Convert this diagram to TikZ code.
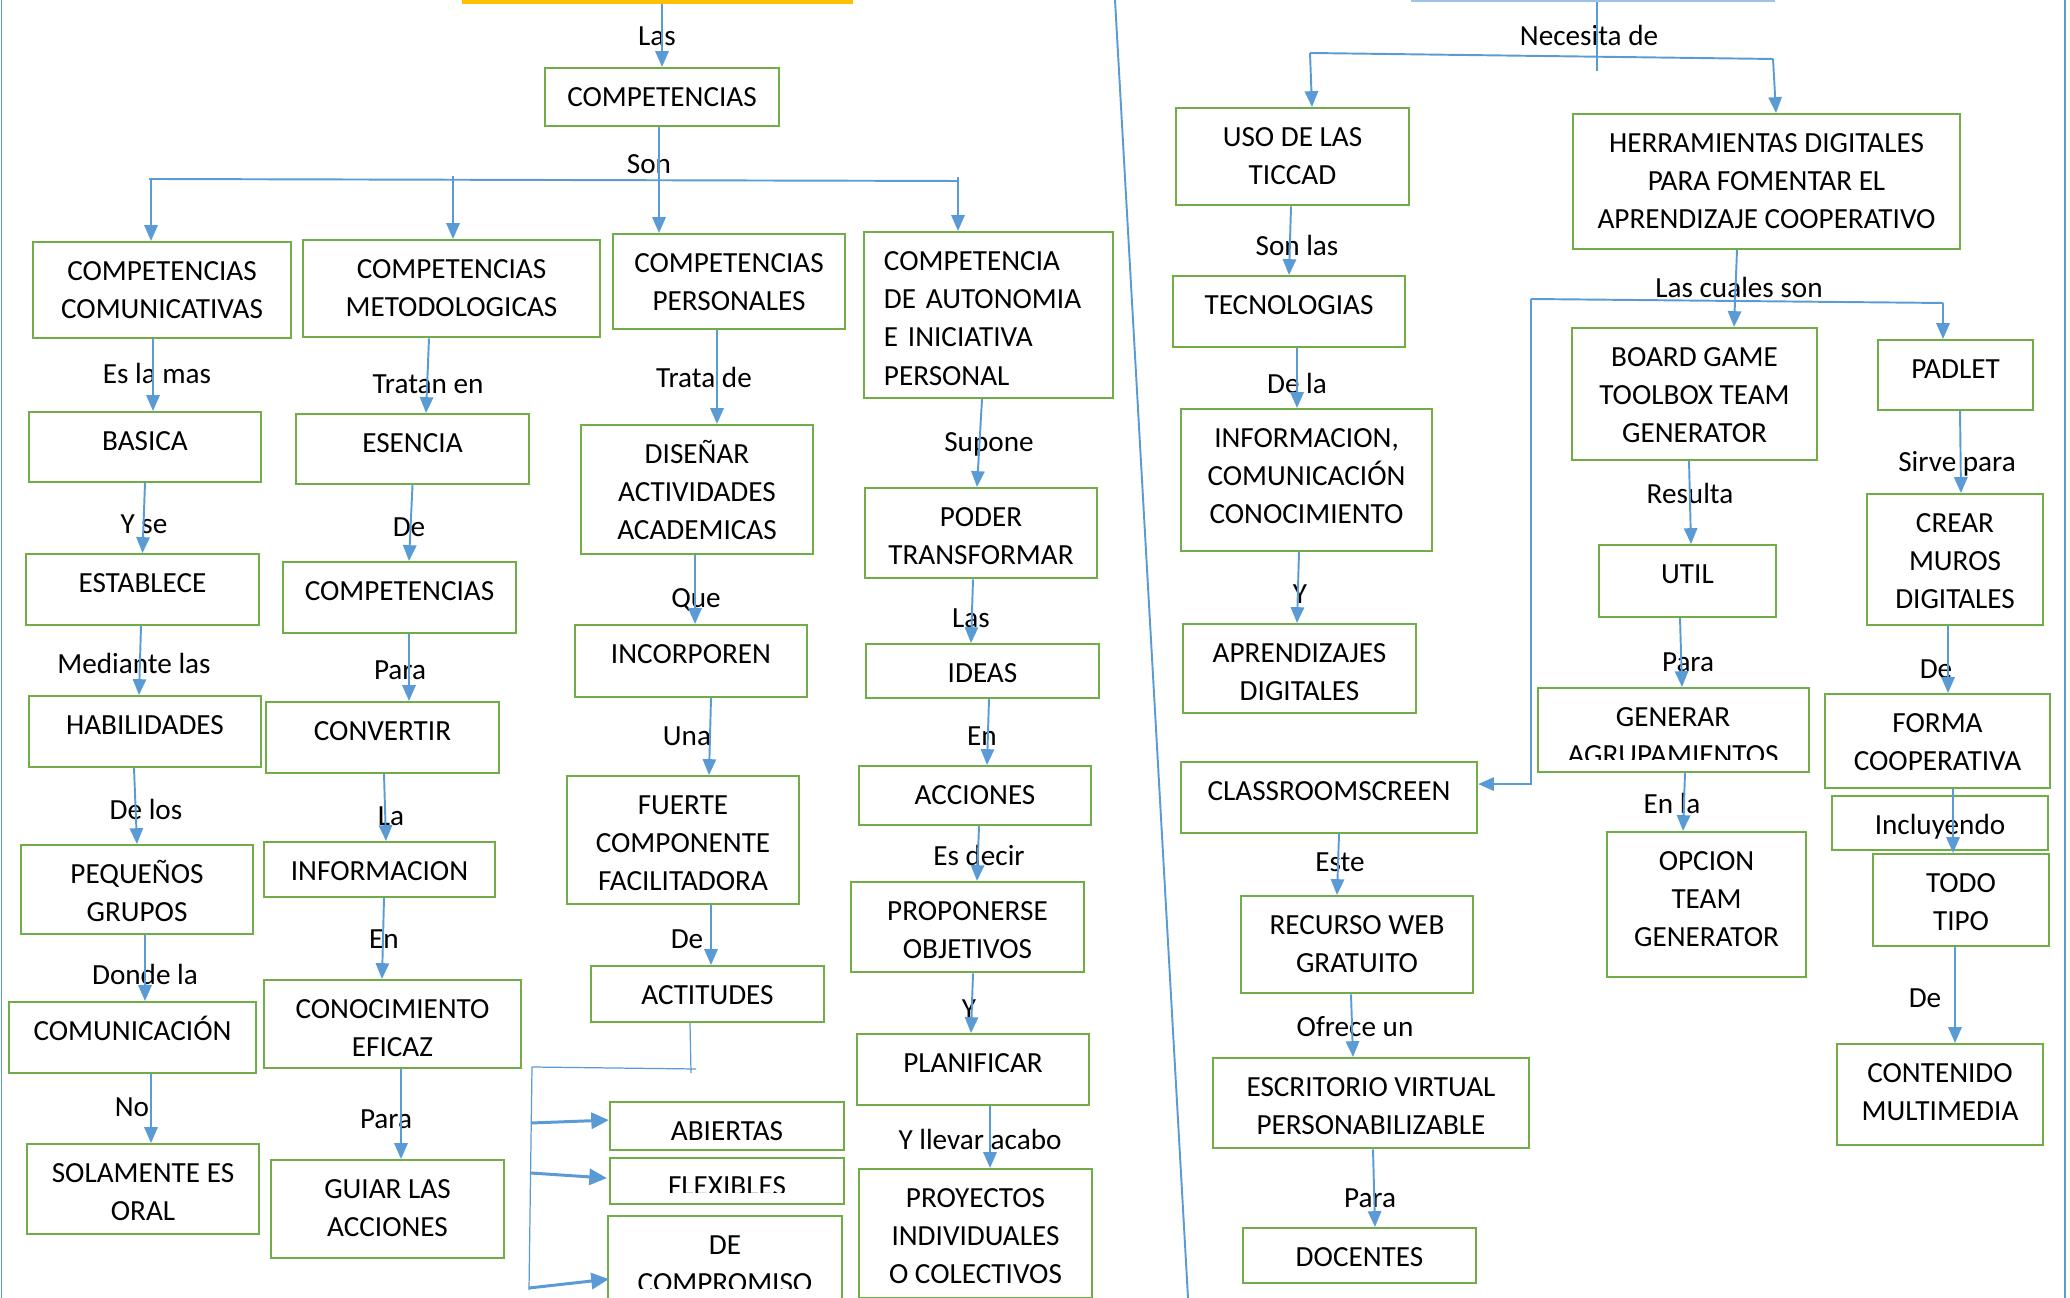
\documentclass[tikz,border=0pt]{standalone}
\usepackage{fontspec}
\setmainfont{Carlito}
\usetikzlibrary{arrows.meta,calc}
\definecolor{verde}{HTML}{70AD47}
\definecolor{azul}{HTML}{5B9BD5}
\definecolor{amarillo}{HTML}{FFC000}
\definecolor{celeste}{HTML}{9DC3E6}
\newcommand{\mapfont}{\fontsize{8.3pt}{10.9pt}\selectfont}
\tikzset{
  caja/.style={draw=verde, line width=0.6pt, inner sep=0pt, align=center, font=\mapfont, anchor=north, text height=0.38cm},
  caja2/.style={caja, text height=0.763cm},
  caja3/.style={caja, text height=1.146cm},
  etiqueta/.style={inner sep=0pt, font=\mapfont, anchor=base},
  linea/.style={draw=azul, line width=0.55pt},
  fina/.style={draw=azul, line width=0.35pt},
  flecha/.style={linea, -{Triangle[length=4.5pt,width=3.8pt]}},
  flechagruesa/.style={draw=azul, line width=0.85pt, -{Triangle[length=5pt,width=4.6pt]}},
}

\begin{document}
\begin{tikzpicture}[x=0.01cm, y=-0.01cm]
\useasboundingbox (0,0) rectangle (2070,1298);
\clip (0,0) rectangle (2070,1298);

% cajas de arriba
\node[draw=amarillo, line width=0.9pt, minimum width=3.87cm, minimum height=0.6cm, inner sep=0pt] (titulo) at (657.5,-28) {};
\node[draw=celeste, line width=0.6pt, minimum width=3.62cm, minimum height=0.6cm, inner sep=0pt] (necesita) at (1593,-29) {};

% lado izquierdo
\node[caja, minimum width=2.34cm, text depth=0.20cm] (comp) at (662,67) {COMPETENCIAS};
\node[caja2, minimum width=2.58cm, text depth=0.20cm] (comunicativas) at (162,241) {COMPETENCIAS\\COMUNICATIVAS};
\node[caja2, minimum width=2.97cm, text depth=0.21cm] (metodologicas) at (451.5,239) {COMPETENCIAS\\METODOLOGICAS};
\node[caja2, minimum width=2.32cm, text depth=0.19cm] (personales) at (729,233) {COMPETENCIAS\\PERSONALES};
\node[caja, minimum width=2.49cm, text depth=1.28cm, align=left, text width=2.09cm] (autonomia) at (988.5,231) {COMPETENCIA\\DE AUTONOMIA\\E INICIATIVA\\PERSONAL};
\node[caja, minimum width=2.32cm, text depth=0.32cm] (basica) at (145,411) {BASICA};
\node[caja, minimum width=2.33cm, text depth=0.32cm] (esencia) at (412.5,413) {ESENCIA};
\node[caja3, minimum width=2.32cm, text depth=0.14cm] (disenar) at (697,424) {DISEÑAR\\ACTIVIDADES\\ACADEMICAS};
\node[caja2, minimum width=2.32cm, text depth=0.14cm] (poder) at (981,487) {PODER\\TRANSFORMAR};
\node[caja, minimum width=2.33cm, text depth=0.33cm] (establece) at (142.5,553) {ESTABLECE};
\node[caja, minimum width=2.33cm, text depth=0.33cm] (competencias2) at (399.5,561) {COMPETENCIAS};
\node[caja, minimum width=2.32cm, text depth=0.34cm] (incorporen) at (691,624) {INCORPOREN};
\node[caja, minimum width=2.33cm, text depth=0.16cm] (ideas) at (982.5,643) {IDEAS};
\node[caja, minimum width=2.32cm, text depth=0.33cm] (habilidades) at (145,695) {HABILIDADES};
\node[caja, minimum width=2.33cm, text depth=0.33cm] (convertir) at (382.5,701) {CONVERTIR};
\node[caja3, minimum width=2.32cm, text depth=0.13cm] (fuerte) at (683,775) {FUERTE\\COMPONENTE\\FACILITADORA};
\node[caja, minimum width=2.32cm, text depth=0.21cm] (acciones) at (975,765) {ACCIONES};
\node[caja2, minimum width=2.32cm, text depth=0.13cm] (pequenos) at (137,844) {PEQUEÑOS\\GRUPOS};
\node[caja, minimum width=2.31cm, text depth=0.17cm] (informacion) at (379.5,841) {INFORMACION};
\node[caja2, minimum width=2.33cm, text depth=0.14cm] (proponerse) at (967.5,881) {PROPONERSE\\OBJETIVOS};
\node[caja, minimum width=2.33cm, text depth=0.18cm] (actitudes) at (707.5,965) {ACTITUDES};
\node[caja, minimum width=2.47cm, text depth=0.33cm] (comunicacion) at (132.5,1001) {COMUNICACIÓN};
\node[caja2, minimum width=2.57cm, text depth=0.12cm] (conocimiento) at (392.5,979) {CONOCIMIENTO\\EFICAZ};
\node[caja, minimum width=2.32cm, text depth=0.33cm] (planificar) at (973,1033) {PLANIFICAR};
\node[caja, minimum width=2.34cm, text depth=0.10cm] (abiertas) at (727,1101) {ABIERTAS};
\node[caja, minimum width=2.34cm, text depth=0.08cm] (flexibles) at (727,1157) {};
\node[caja, minimum width=2.34cm, text depth=0.52cm] (compromiso) at (725,1215) {};
\node[caja2, minimum width=2.32cm, text depth=0.14cm] (solamente) at (143,1143) {SOLAMENTE ES\\ORAL};
\node[caja2, minimum width=2.33cm, text depth=0.22cm] (guiar) at (387.5,1159) {GUIAR LAS\\ACCIONES};
\node[caja3, minimum width=2.33cm, text depth=0.14cm] (proyectos) at (975.5,1168) {PROYECTOS\\INDIVIDUALES\\O COLECTIVOS};

% lado derecho
\node[caja2, minimum width=2.33cm, text depth=0.21cm] (uso) at (1292.5,107) {USO DE LAS\\TICCAD};
\node[caja3, minimum width=3.87cm, text depth=0.20cm] (herramientas) at (1766.5,113) {HERRAMIENTAS DIGITALES\\PARA FOMENTAR EL\\APRENDIZAJE COOPERATIVO};
\node[caja, minimum width=2.32cm, text depth=0.33cm] (tecnologias) at (1289,275) {TECNOLOGIAS};
\node[caja3, minimum width=2.45cm, text depth=0.17cm] (boardgame) at (1694.5,327) {BOARD GAME\\TOOLBOX TEAM\\GENERATOR};
\node[caja, minimum width=1.55cm, text depth=0.32cm] (padlet) at (1955.5,339) {PADLET};
\node[caja3, minimum width=2.51cm, text depth=0.27cm] (infocom) at (1306.5,408) {INFORMACION,\\COMUNICACIÓN\\CONOCIMIENTO};
\node[caja, minimum width=1.77cm, text depth=0.34cm] (util) at (1687.5,544) {UTIL};
\node[caja3, minimum width=1.76cm, text depth=0.16cm] (crear) at (1955,493) {CREAR\\MUROS\\DIGITALES};
\node[caja2, minimum width=2.33cm, text depth=0.13cm] (aprendizajes) at (1299.5,623) {APRENDIZAJES\\DIGITALES};
\node[caja, minimum width=2.71cm, text depth=0.46cm] (generar) at (1673.5,687) {};
\node[caja2, minimum width=2.25cm, text depth=0.18cm] (forma) at (1937.5,693) {FORMA\\COOPERATIVA};
\node[caja, minimum width=2.96cm, text depth=0.33cm] (classroom) at (1329,761) {CLASSROOMSCREEN};
\node[caja, minimum width=2.16cm, text depth=0.16cm] (incluyendo) at (1940,795) {Incluyendo};
\node[caja3, minimum width=1.99cm, text depth=0.30cm] (opcion) at (1706.5,831) {OPCION\\TEAM\\GENERATOR};
\node[caja2, minimum width=1.76cm, text depth=0.16cm] (todotipo) at (1961,853) {TODO\\TIPO};
\node[caja2, minimum width=2.32cm, text depth=0.21cm] (recurso) at (1357,895) {RECURSO WEB\\GRATUITO};
\node[caja2, minimum width=2.06cm, text depth=0.25cm] (contenido) at (1940,1043) {CONTENIDO\\MULTIMEDIA};
\node[caja2, minimum width=3.16cm, text depth=0.14cm] (escritorio) at (1371,1057) {ESCRITORIO VIRTUAL\\PERSONABILIZABLE};
\node[caja, minimum width=2.33cm, text depth=0.17cm] (docentes) at (1359.5,1227) {DOCENTES};

% textos cortados
\begin{scope}
\clip (610,1157) rectangle (844,1192);
\node[etiqueta] (flexibles-txt) at (727,1195.5) {FLEXIBLES};
\end{scope}
\begin{scope}
\clip (608,1215) rectangle (842,1288);
\node[etiqueta] (compromiso-de) at (725,1254) {DE};
\node[etiqueta] (compromiso-txt) at (725,1292) {COMPROMISO};
\end{scope}
\begin{scope}
\clip (1538,687) rectangle (1809,760);
\node[etiqueta] (generar-txt) at (1673,727) {GENERAR};
\node[etiqueta] (agrup-txt) at (1673,765) {AGRUPAMIENTOS};
\end{scope}

% etiquetas
\node[etiqueta] (e-las) at (657,46) {Las};
\node[etiqueta] (e-son) at (649,174) {Son};
\node[etiqueta] (e-eslamas) at (157,384) {Es la mas};
\node[etiqueta] (e-tratanen) at (428,394) {Tratan en};
\node[etiqueta] (e-tratade) at (704,388) {Trata de};
\node[etiqueta] (e-supone) at (989,452) {Supone};
\node[etiqueta] (e-yse) at (144,534) {Y se};
\node[etiqueta] (e-de1) at (409,537) {De};
\node[etiqueta] (e-que) at (696,608) {Que};
\node[etiqueta] (e-las2) at (971,628) {Las};
\node[etiqueta] (e-mediante) at (134,674) {Mediante las};
\node[etiqueta] (e-para1) at (400,680) {Para};
\node[etiqueta] (e-una) at (687,746) {Una};
\node[etiqueta] (e-en1) at (982,746) {En};
\node[etiqueta] (e-delos) at (146,820) {De los};
\node[etiqueta] (e-la) at (391,826) {La};
\node[etiqueta] (e-esdecir) at (979,866) {Es decir};
\node[etiqueta] (e-dondela) at (145,984) {Donde la};
\node[etiqueta] (e-en2) at (384,948) {En};
\node[etiqueta] (e-de2) at (687,948) {De};
\node[etiqueta] (e-y1) at (969,1018) {Y};
\node[etiqueta] (e-no) at (132,1116) {No};
\node[etiqueta] (e-para2) at (386,1128) {Para};
\node[etiqueta] (e-llevar) at (980,1149) {Y llevar acabo};
\node[etiqueta] (e-necesita) at (1589,46) {Necesita de};
\node[etiqueta] (e-sonlas) at (1297,256) {Son las};
\node[etiqueta] (e-dela) at (1297,394) {De la};
\node[etiqueta] (e-cuales) at (1739,298) {Las cuales son};
\node[etiqueta] (e-resulta) at (1690,504) {Resulta};
\node[etiqueta] (e-sirve) at (1957,472) {Sirve para};
\node[etiqueta] (e-y2) at (1300,604) {Y};
\node[etiqueta] (e-para3) at (1688,672) {Para};
\node[etiqueta] (e-de3) at (1936,679) {De};
\node[etiqueta] (e-enla) at (1672,814) {En la};
\node[etiqueta] (e-este) at (1340,872) {Este};
\node[etiqueta] (e-de4) at (1925,1007) {De};
\node[etiqueta] (e-ofrece) at (1355,1036) {Ofrece un};
\node[etiqueta] (e-para4) at (1370,1207) {Para};

% bordes
\draw[linea] (1.5,0) -- (1.5,1298);
\draw[linea] (1115,0) -- (1188,1298);
\draw[linea] (2065,0) -- (2065,1298);

% conectores izquierda
\draw[flecha] (comp.north |- titulo.south) -- (comp.north);
\coordinate (son-izq) at (149,179);
\coordinate (son-der) at (958,181);
\coordinate (son-a) at (151,179);
\coordinate (son-b) at (453,176);
\coordinate (son-d) at (958,177);
\draw[linea] (son-izq) -- (son-der);
\draw[flecha] ($(comp.south)+(-3,0)$) -- ($(personales.north)+(-70,0)$);
\draw[flecha] (son-a) -- ($(comunicativas.north)+(-11,0)$);
\draw[flecha] (son-b) -- ($(metodologicas.north)+(1.5,0)$);
\draw[flecha] (son-d) -- ($(autonomia.north)+(-30.5,0)$);
\draw[flecha] ($(comunicativas.south)+(-9,0)$) -- ($(basica.north)+(8,0)$);
\draw[flecha] ($(metodologicas.south)+(-22.5,0)$) -- ($(esencia.north)+(13.5,0)$);
\draw[flecha] ($(personales.south)+(-12,0)$) -- ($(disenar.north)+(20,0)$);
\draw[flecha] ($(autonomia.south)+(-6.5,0)$) -- ($(poder.north)+(-4,0)$);
\draw[flecha] (basica.south) -- (establece.north);
\draw[flecha] (esencia.south) -- ($(competencias2.north)+(9.5,0)$);
\draw[flecha] ($(disenar.south)+(-2,0)$) -- ($(incorporen.north)+(4,0)$);
\draw[flecha] ($(poder.south)+(-8,0)$) -- ($(ideas.north)+(-11.5,0)$);
\draw[flecha] ($(establece.south)+(-1.5,0)$) -- ($(habilidades.north)+(-6,0)$);
\draw[flecha] ($(competencias2.south)+(9.5,0)$) -- ($(convertir.north)+(26.5,0)$);
\draw[flecha] ($(incorporen.south)+(20,0)$) -- ($(fuerte.north)+(26,0)$);
\draw[flecha] ($(ideas.south)+(6.5,0)$) -- ($(acciones.north)+(12,0)$);
\draw[flecha] ($(habilidades.south)+(-11,0)$) -- (pequenos.north);
\draw[flecha] ($(convertir.south)+(1.5,0)$) -- ($(informacion.north)+(6.5,0)$);
\draw[flecha] ($(fuerte.south)+(28,0)$) -- ($(actitudes.north)+(3.5,0)$);
\draw[flecha] ($(acciones.south)+(4,0)$) -- ($(proponerse.north)+(9.5,0)$);
\draw[flecha] ($(pequenos.south)+(8,0)$) -- ($(comunicacion.north)+(12.5,0)$);
\draw[flecha] ($(informacion.south)+(4.5,0)$) -- ($(conocimiento.north)+(-10.5,0)$);
\draw[flecha] ($(proponerse.south)+(5.5,0)$) -- ($(planificar.north)+(-2,0)$);
\draw[flecha] ($(comunicacion.south)+(18.5,0)$) -- ($(solamente.north)+(8,0)$);
\draw[flecha] ($(conocimiento.south)+(8.5,0)$) -- ($(guiar.north)+(13.5,0)$);
\draw[flecha] ($(planificar.south)+(17,0)$) -- ($(proyectos.north)+(14.5,0)$);

% actitudes
\coordinate (act-baja) at (691,1073);
\coordinate (act-izq) at (532,1067);
\coordinate (act-der) at (696,1069);
\coordinate (act-pie) at (529,1290);
\coordinate (rama1) at (531,1123);
\coordinate (rama2) at (531,1173);
\coordinate (rama3) at (529,1288);
\draw[fina] ($(actitudes.south)+(-17.5,0)$) -- (act-baja);
\draw[fina] (act-izq) -- (act-der);
\draw[fina] (act-izq) -- (act-pie);
\draw[flechagruesa] (rama1) -- ($(abiertas.west)+(0,-6)$);
\draw[flechagruesa] (rama2) -- ($(flexibles.west)+(-2,-3)$);
\draw[flechagruesa] (rama3) -- ($(compromiso.west)+(2,18)$);

% conectores derecha
\draw[linea] ($(necesita.south)+(4,0)$) -- ++(0,69);
\coordinate (nec-izq) at (1310,53);
\coordinate (nec-der) at (1773,59);
\draw[linea] (nec-izq) -- (nec-der);
\draw[flecha] (nec-izq) -- ($(uso.north)+(19.5,0)$);
\draw[flecha] (nec-der) -- ($(herramientas.north)+(9.5,0)$);
\draw[flecha] ($(uso.south)+(-1.5,0)$) -- (tecnologias.north);
\draw[flecha] ($(tecnologias.south)+(8,0)$) -- ($(infocom.north)+(-9.5,0)$);
\draw[flecha] ($(infocom.south)+(-7.5,0)$) -- ($(aprendizajes.north)+(-2.5,0)$);
\draw[flecha] ($(herramientas.south)+(-29.5,0)$) -- ($(boardgame.north)+(39.5,0)$);
\coordinate (cual-izq) at (1531,299);
\coordinate (cual-der) at (1943,303);
\draw[linea] (cual-izq) -- (cual-der);
\draw[flecha] (cual-der) -- ($(padlet.north)+(-12.5,0)$);
\draw[flecha] (cual-izq) |- ($(classroom.east)+(0,-13.5)$);
\draw[flecha] ($(boardgame.south)+(-5.5,0)$) -- ($(util.north)+(3.5,0)$);
\draw[flecha] ($(util.south)+(-7.5,0)$) -- ($(generar.north)+(8.5,0)$);
\draw[flecha] ($(generar.south)+(11.5,0)$) -- ($(opcion.north)+(-23.5,0)$);
\draw[flecha] ($(padlet.south)+(4.5,0)$) -- ($(crear.north)+(6,0)$);
\draw[flecha] ($(crear.south)+(-7,0)$) -- ($(forma.north)+(10.5,0)$);
\draw[flecha] ($(forma.south)+(15.5,0)$) -- ($(todotipo.north)+(-8,0)$);
\draw[flecha] ($(todotipo.south)+(-6,0)$) -- ($(contenido.north)+(15,0)$);
\draw[flecha] ($(classroom.south)+(10,0)$) -- ($(recurso.north)+(-20,0)$);
\draw[flecha] ($(recurso.south)+(-6,0)$) -- ($(escritorio.north)+(-18,0)$);
\draw[flecha] ($(escritorio.south)+(2,0)$) -- ($(docentes.north)+(15.5,0)$);
\end{tikzpicture}
\end{document}
